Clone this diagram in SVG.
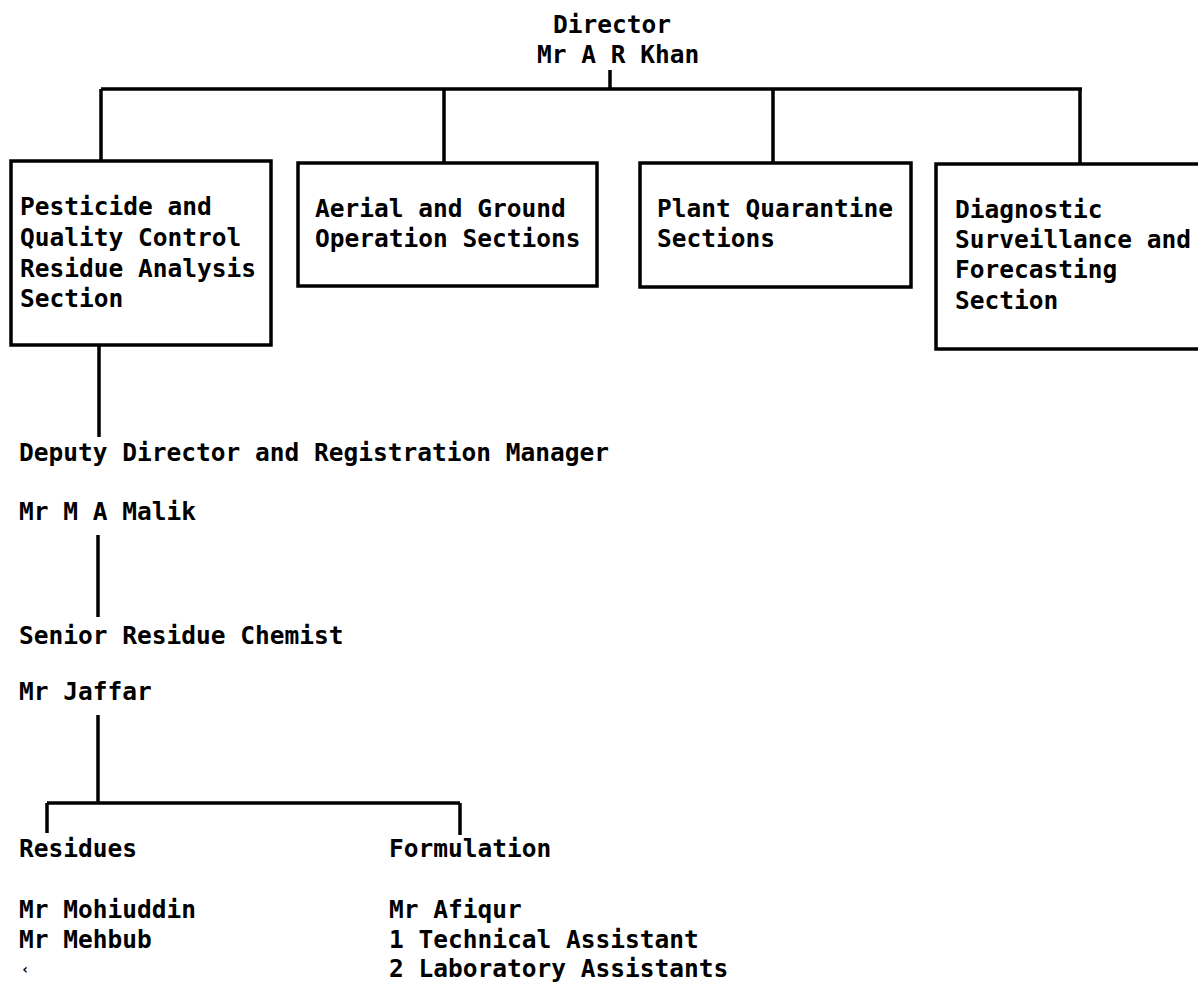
<svg xmlns="http://www.w3.org/2000/svg" width="1198" height="984" viewBox="0 0 1198 984">
<style>
text{font-family:"DejaVu Sans Mono","Liberation Mono",monospace;font-weight:bold;font-size:24.5px;fill:#000}
.box{fill:#fff;stroke:#000;stroke-width:3.5}
.ln{fill:none;stroke:#000;stroke-width:3.5}
</style>
<rect width="1198" height="984" fill="#fff"/>
<g id="connectors">
<path class="ln" d="M610 70V89M101 89H1082M101 89V161M444 89V163M773 89V163M1080 89V164"/>
<path class="ln" d="M99 345V437M98 535V617M98 715V803M47 803H460M47 803V833M460 803V835"/>
</g>
<g id="director">
<text x="553" y="33">Director</text>
<text x="537" y="63">Mr A R Khan</text>
</g>
<g id="box-pesticide">
<rect class="box" x="11" y="161" width="260" height="184"/>
<text x="20" y="215">Pesticide and</text>
<text x="20" y="246">Quality Control</text>
<text x="20" y="277">Residue Analysis</text>
<text x="20" y="307">Section</text>
</g>
<g id="box-aerial">
<rect class="box" x="298" y="163" width="299" height="123"/>
<text x="315" y="217">Aerial and Ground</text>
<text x="315" y="247">Operation Sections</text>
</g>
<g id="box-quarantine">
<rect class="box" x="640" y="163" width="271" height="124"/>
<text x="657" y="217">Plant Quarantine</text>
<text x="657" y="247">Sections</text>
</g>
<g id="box-diagnostic">
<rect class="box" x="936" y="164" width="270" height="185"/>
<text x="955" y="218">Diagnostic</text>
<text x="955" y="248">Surveillance and</text>
<text x="955" y="278">Forecasting</text>
<text x="955" y="309">Section</text>
</g>
<g id="deputy">
<text x="19" y="461">Deputy Director and Registration Manager</text>
<text x="19" y="520">Mr M A Malik</text>
</g>
<g id="senior">
<text x="19" y="644">Senior Residue Chemist</text>
<text x="19" y="700">Mr Jaffar</text>
</g>
<g id="residues">
<text x="19" y="857">Residues</text>
<text x="19" y="918">Mr Mohiuddin</text>
<text x="19" y="948">Mr Mehbub</text>
<text x="21" y="974" style="font-size:14px">‹</text>
</g>
<g id="formulation">
<text x="389" y="857">Formulation</text>
<text x="389" y="918">Mr Afiqur</text>
<text x="389" y="948">1 Technical Assistant</text>
<text x="389" y="977">2 Laboratory Assistants</text>
</g>
</svg>
